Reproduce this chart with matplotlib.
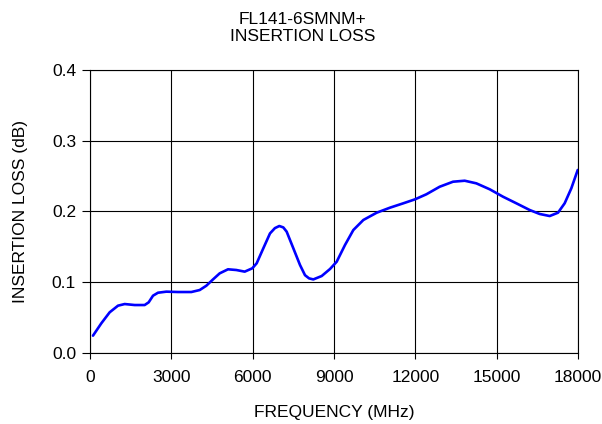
import matplotlib
matplotlib.use("Agg")
import matplotlib.pyplot as plt

plt.rcParams['font.family'] = ['Liberation Sans', 'DejaVu Sans']

freq_mhz = [110, 418, 725, 1033, 1279, 1648, 2016, 2164, 2324, 2508, 2815, 3246,
            3738, 4046, 4291, 4537, 4784, 5090, 5397, 5706, 5986, 6148, 6393,
            6639, 6820, 6983, 7130, 7254, 7500, 7746, 7930, 8080, 8237, 8546, 8852,
            9099, 9406, 9713, 10082, 10574, 11065, 11557, 11988, 12406, 12898,
            13390, 13821, 14250, 14743, 15234, 15725, 16218, 16587, 16956,
            17262, 17508, 17754, 17990]
loss_db = [0.0245, 0.042, 0.0575, 0.0669, 0.0692, 0.0678, 0.0678, 0.0716, 0.081,
           0.0852, 0.0867, 0.0862, 0.0862, 0.089, 0.0951, 0.104, 0.1126, 0.1183,
           0.1173, 0.115, 0.1197, 0.1268, 0.148, 0.169, 0.1765, 0.1795, 0.1775,
           0.1715, 0.148, 0.1244, 0.110, 0.1055, 0.104, 0.1088, 0.1187, 0.129,
           0.1527, 0.1738, 0.188, 0.1983, 0.2054, 0.2116, 0.2172, 0.2243, 0.235,
           0.2421, 0.2435, 0.2398, 0.2314, 0.2209, 0.2116, 0.2021, 0.1965,
           0.1936, 0.1983, 0.2116, 0.2328, 0.2587]

x_ticks = [0, 3000, 6000, 9000, 12000, 15000, 18000]
y_ticks = [0.0, 0.1, 0.2, 0.3, 0.4]
title_lines = "FL141-6SMNM+\nINSERTION LOSS"

fig = plt.figure(figsize=(6.02, 4.24), dpi=100)
ax = fig.add_axes([90/602, 1-353/424, (578-90)/602, (353-70)/424])
ax.plot(freq_mhz, loss_db, color='#0000ff', lw=1.9,
        solid_capstyle='round', solid_joinstyle='round')
ax.set_xlim(0, 18000)
ax.set_ylim(0, 0.4)
ax.set_xticks(x_ticks)
ax.set_yticks(y_ticks)
ax.set_yticklabels([f"{v:.1f}" for v in y_ticks])
ax.grid(True, color='black', lw=0.8)
for s in ax.spines.values():
    s.set_color('black')
    s.set_linewidth(0.8)
ax.tick_params(direction='out', width=0.8, labelsize=12.5, colors='black')
ax.tick_params(axis='x', length=4, pad=8)
ax.tick_params(axis='y', length=6, pad=4)
ax.set_xlabel("FREQUENCY (MHz)", fontsize=12.5, labelpad=15)
ax.set_ylabel("INSERTION LOSS (dB)", fontsize=12.5, labelpad=17)
fig.text(303/602, 1-28/424, title_lines, ha='center', va='center', fontsize=12.5, linespacing=1.15)
fig.savefig("out.png", dpi=100)
